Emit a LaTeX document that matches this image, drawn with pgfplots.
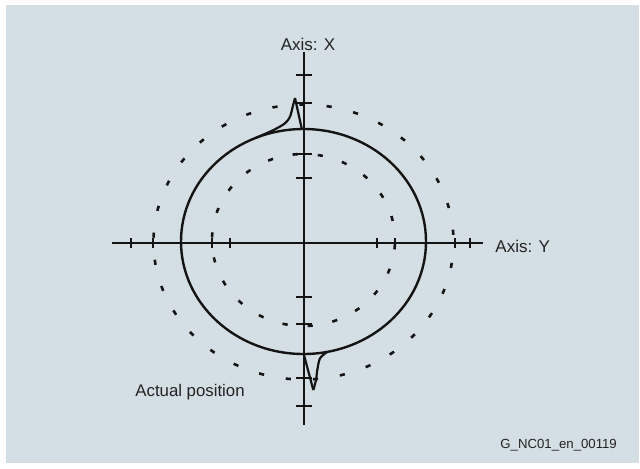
\documentclass[border=0pt]{standalone}
\usepackage{pgfplots}
\pgfplotsset{compat=1.18}
\usepackage{fontspec}
\setmainfont{Liberation Sans}
\definecolor{bgc}{RGB}{212,223,229}
\definecolor{txt}{RGB}{35,35,35}
\definecolor{ink}{RGB}{20,20,20}
\begin{document}
\begin{tikzpicture}
\begin{axis}[
  width=320pt, height=234pt, scale only axis,
  xmin=-303.5, xmax=336.5, ymin=-226, ymax=242,
  hide axis, clip=false]
% background
\fill[white] (axis cs:-303.5,-226) rectangle (axis cs:336.5,242);
\fill[bgc] (axis cs:-297.5,-221) rectangle (axis cs:335.5,237);
% axes lines
\addplot[ink, line width=1pt] coordinates {(-191.5,-1) (179.5,-1)};
\addplot[ink, line width=1pt] coordinates {(0,190) (0,-183)};
% ticks on horizontal axis
\foreach \t in {-172.5,-150.5,-91.5,-73.5,73.5,91.5,151.5,166.5}{
  \edef\tmp{\noexpand\addplot[ink, line width=1pt] coordinates {(\t,-6) (\t,4)};}\tmp
}
% ticks on vertical axis
\foreach \t in {167,139,88,64,-55,-82,-136,-164}{
  \edef\tmp{\noexpand\addplot[ink, line width=1pt] coordinates {(-8,\t) (8,\t)};}\tmp
}
% dashed reference circles
\draw[ink, line width=1.3pt, dash pattern=on 2.6pt off 11pt, dash phase=10pt] (axis cs:0,0) ellipse [x radius=150, y radius=137.5];
\draw[ink, line width=1.3pt, dash pattern=on 2.6pt off 10pt, dash phase=3pt] (axis cs:0,2) ellipse [x radius=91.5, y radius=86];
% actual position
\draw[ink, line width=1.2pt] (axis cs:0,0.5) ellipse [x radius=122.5, y radius=112.5];
\addplot[ink, line width=1.1pt, smooth] coordinates {(-48,104) (-30,112) (-18.5,118.7) (-13.5,125.3) (-10.8,135.3) (-8.5,144)};
\addplot[ink, line width=1.1pt] coordinates {(-8.5,144) (-1.8,113.5)};
\addplot[ink, line width=1.1pt] coordinates {(0.5,-113) (9.8,-148)};
\addplot[ink, line width=1.1pt, smooth] coordinates {(9.8,-148) (12.5,-138) (13.8,-128) (16.5,-116.3) (23.8,-109.8)};
% labels
\node[anchor=base, text=txt, font=\fontsize{8.5}{10}\selectfont, inner sep=0pt] at (axis cs:4.5,192) {Axis: X};
\node[anchor=base west, text=txt, font=\fontsize{8.5}{10}\selectfont, inner sep=0pt] at (axis cs:191.5,-10) {Axis: Y};
\node[anchor=base west, text=txt, font=\fontsize{8.4}{10}\selectfont, inner sep=0pt] at (axis cs:-168.5,-154) {Actual position};
\node[anchor=base west, text=txt, font=\fontsize{6.6}{8}\selectfont, inner sep=0pt] at (axis cs:196.5,-206) {G\_NC01\_en\_00119};
\end{axis}
\end{tikzpicture}
\end{document}
